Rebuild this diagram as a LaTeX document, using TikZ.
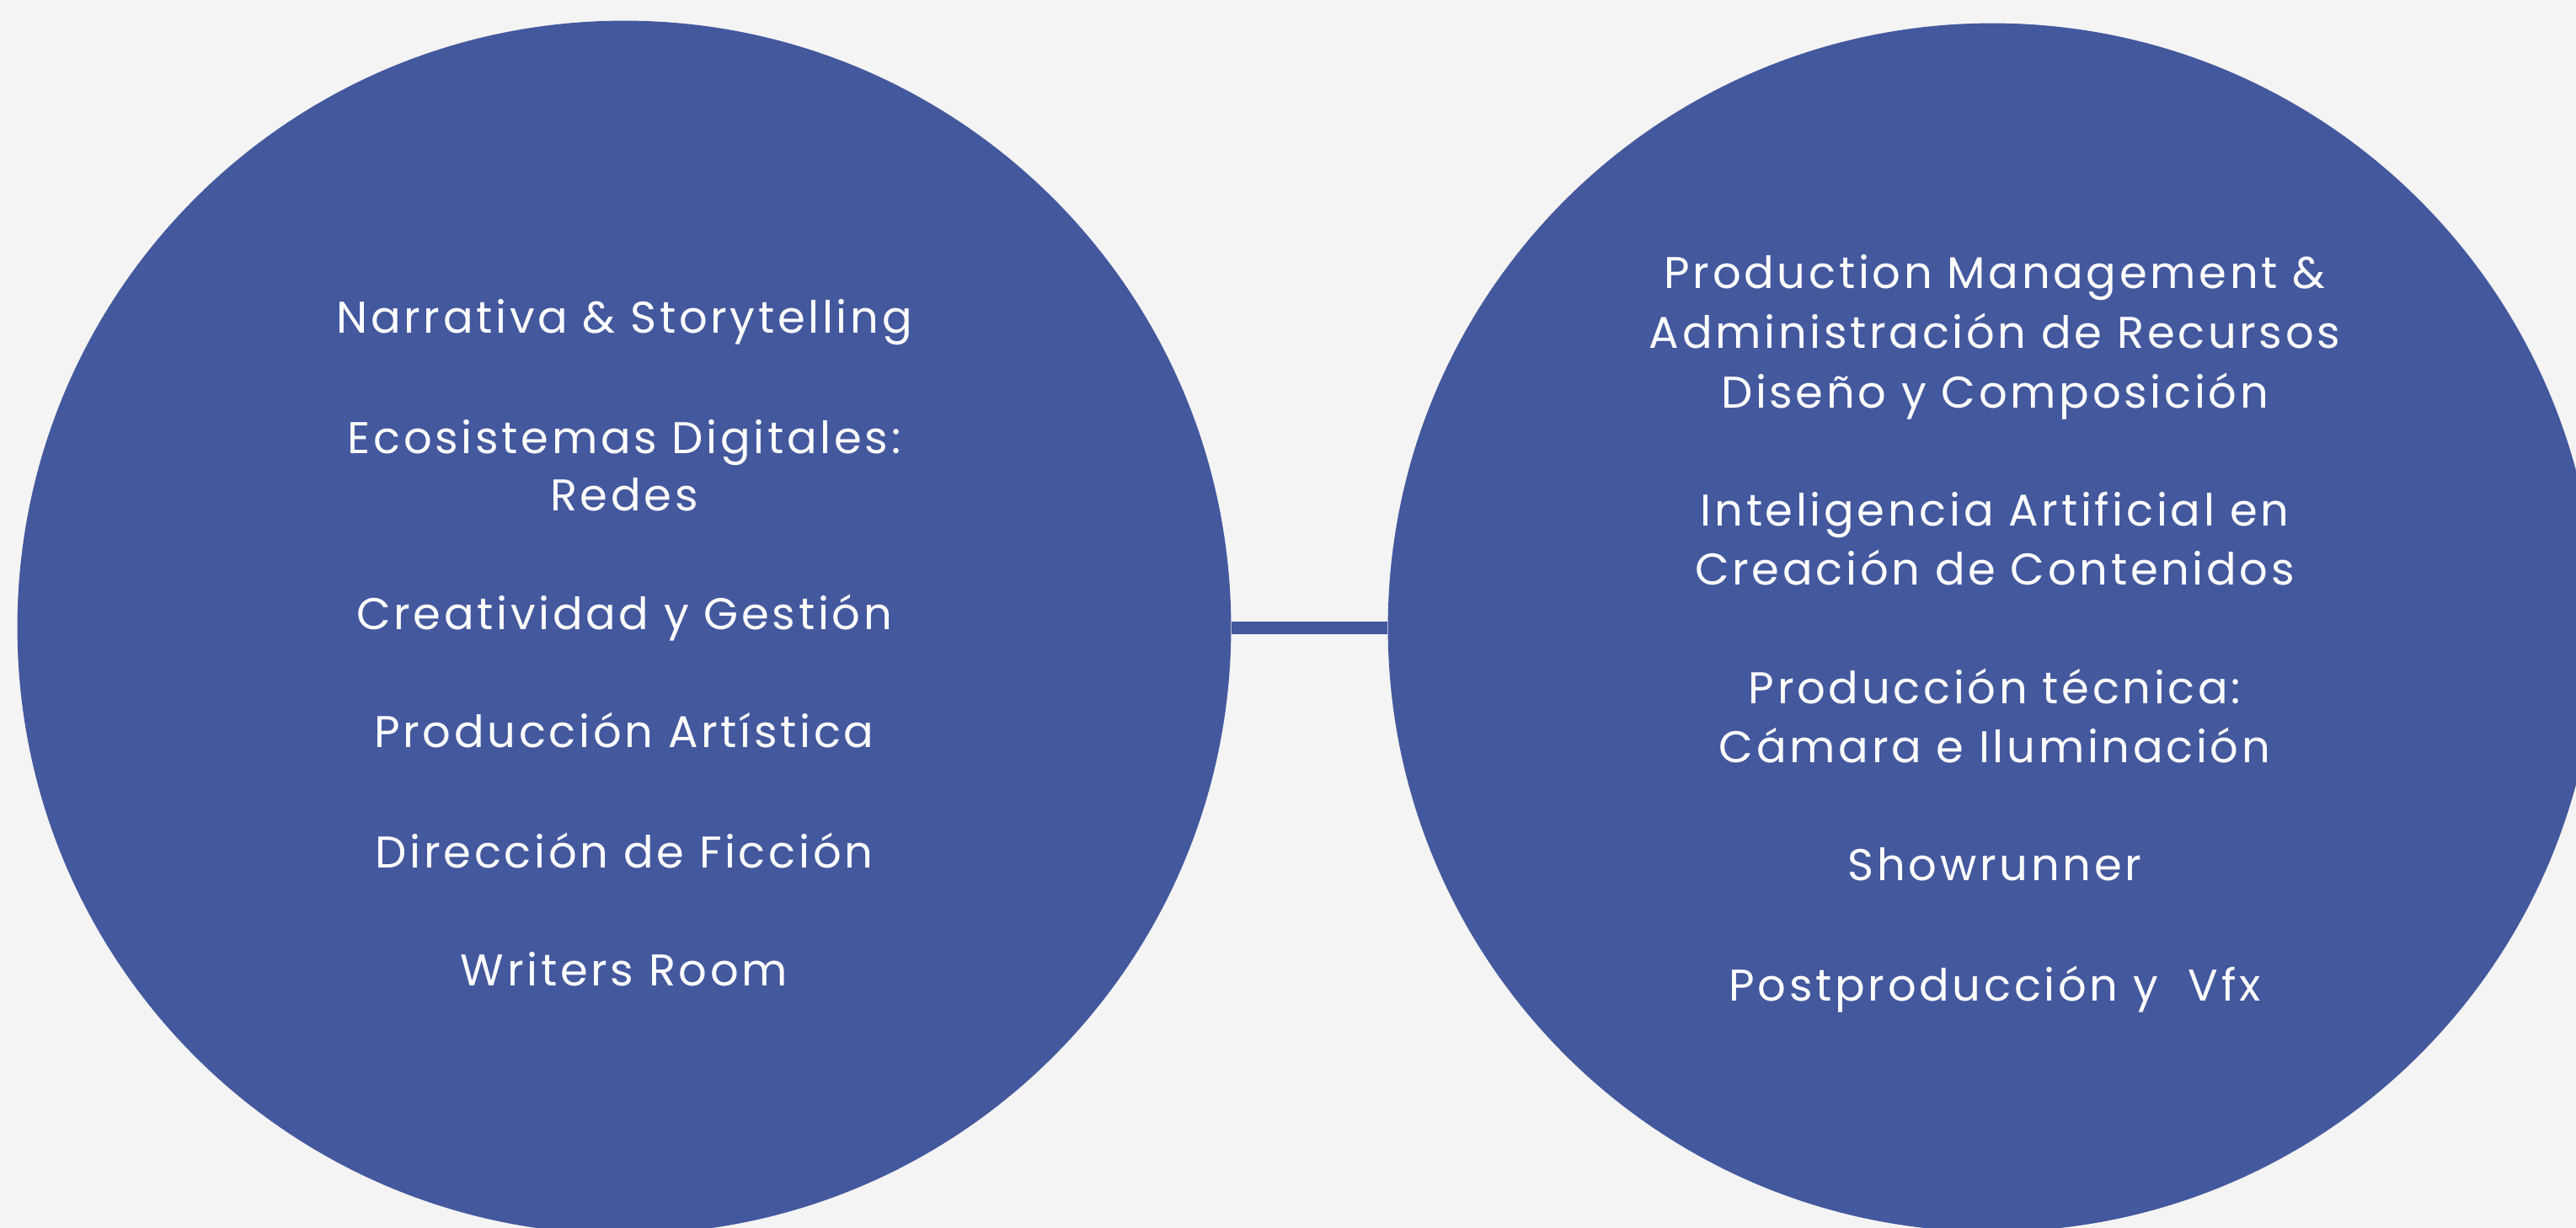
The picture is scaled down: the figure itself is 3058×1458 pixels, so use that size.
\documentclass[tikz,border=0pt]{standalone}
\usepackage{fontspec}
\setmainfont[LetterSpace=7]{Poppins}
\definecolor{bgc}{HTML}{F4F4F4}
\definecolor{blu}{HTML}{44589E}
\begin{document}
\begin{tikzpicture}[x=0.01cm,y=-0.01cm,
  bubble/.style={circle,fill=blu,draw=none,inner sep=0pt},
  item/.style={anchor=base,text=white,inner sep=0pt,font=\fontsize{15pt}{19.9pt}\selectfont},
  link/.style={draw=blu,line width=0.15cm}]
\fill[bgc] (0,0) rectangle (3058,1458);
\useasboundingbox (0,0) rectangle (3058,1458);
\begin{scope}
\clip (0,0) rectangle (3058,1458);
\node[bubble,minimum size=14.4cm] (L) at (741,745) {};
\node[bubble,minimum size=14.34cm] (R) at (2365,745) {};
\draw[link] (L.east) -- (R.west);
\end{scope}
\node[item] (l1) at (741,396) {Narrativa \& Storytelling};
\node[item] (l2) at (741,538) {Ecosistemas Digitales:};
\node[item] (l3) at (741,606) {Redes};
\node[item] (l4) at (741,747) {Creatividad y Gestión};
\node[item] (l5) at (741,887) {Producción Artística};
\node[item] (l6) at (741,1030) {Dirección de Ficción};
\node[item] (l7) at (741,1170) {Writers Room};
\node[item] (r1) at (2368,343) {Production Management \&};
\node[item] (r2) at (2368,413) {Administración de Recursos};
\node[item] (r3) at (2368,484) {Diseño y Composición};
\node[item] (r4) at (2368,624) {Inteligencia Artificial en};
\node[item] (r5) at (2368,694) {Creación de Contenidos};
\node[item] (r6) at (2368,835) {Producción técnica:};
\node[item] (r7) at (2368,905) {Cámara e Iluminación};
\node[item] (r8) at (2368,1045) {Showrunner};
\node[item] (r9) at (2368,1188) {Postproducción y\ \ Vfx};
\end{tikzpicture}
\end{document}
